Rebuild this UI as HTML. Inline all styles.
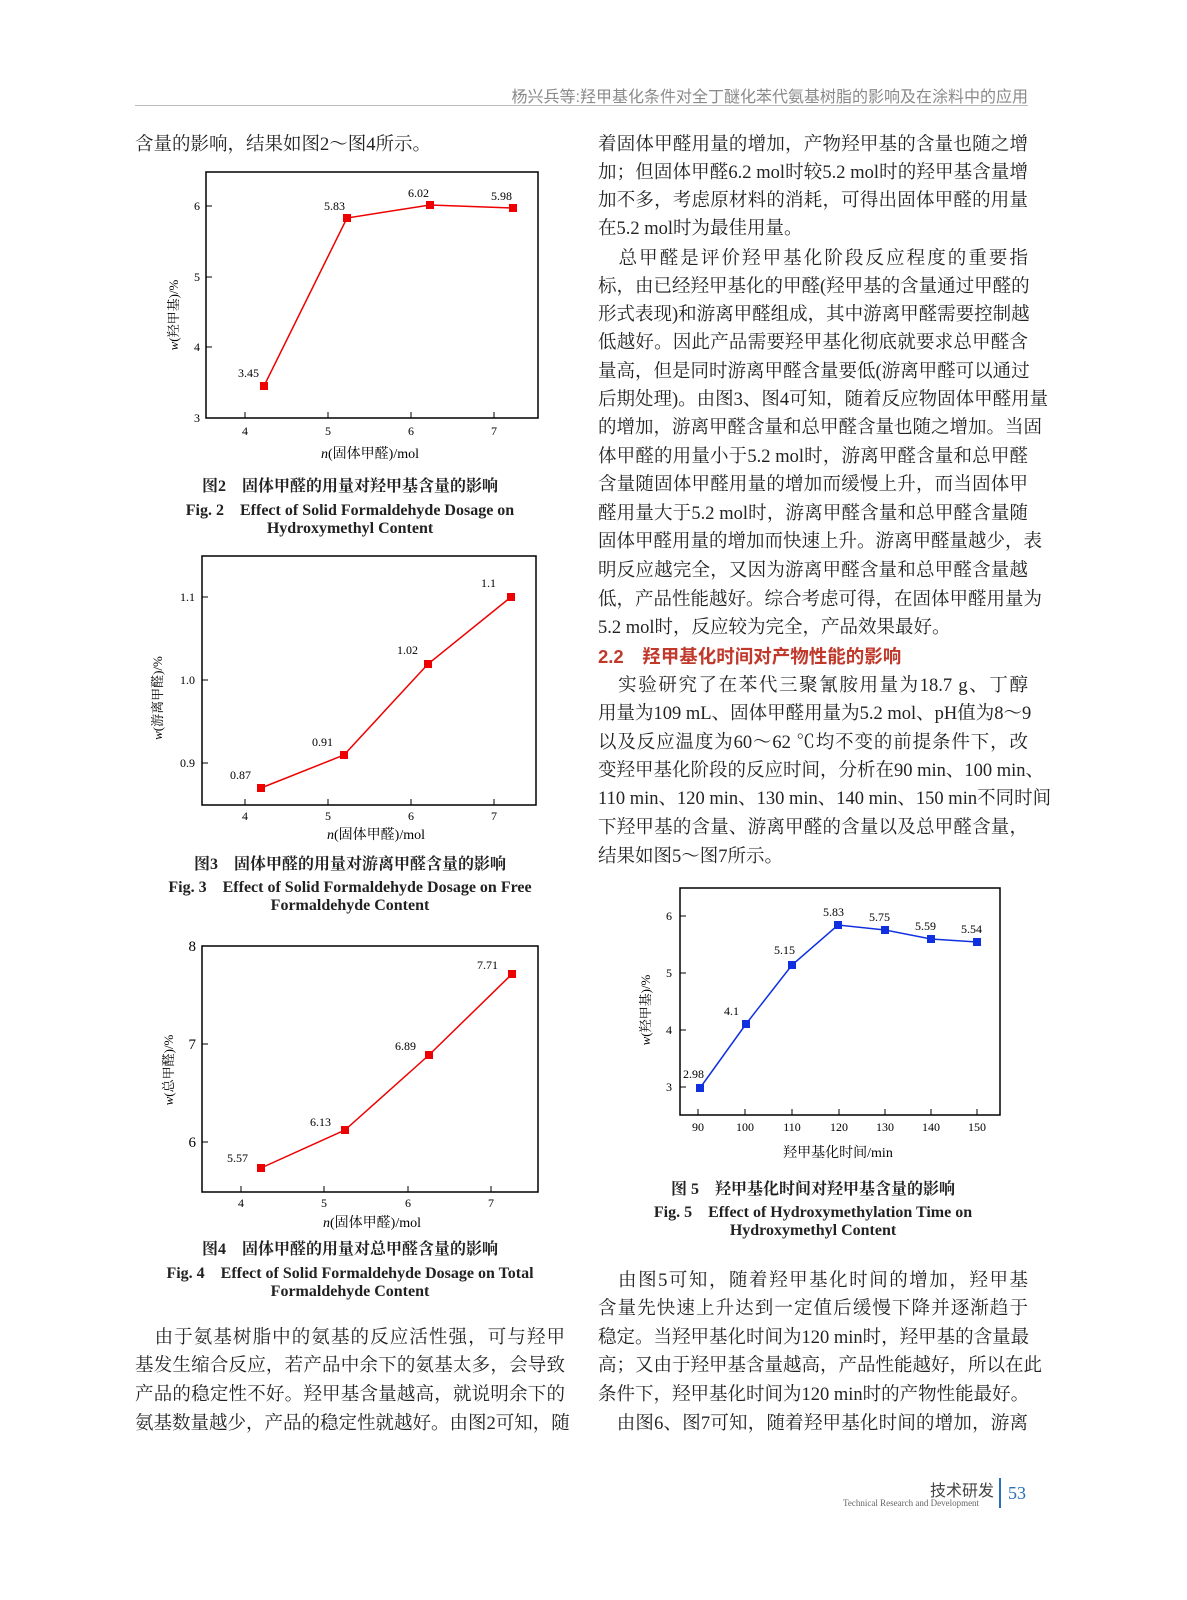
<!DOCTYPE html>
<html><head><meta charset="utf-8">
<style>
html,body{margin:0;padding:0;background:#fff;}
#pg{position:relative;width:1187px;height:1600px;overflow:hidden;font-family:"Liberation Serif","Noto Serif CJK SC","Noto Sans CJK SC",serif;color:#222;}
.l{position:absolute;font-size:18.5px;line-height:24px;white-space:nowrap;text-align:justify;text-align-last:justify;}
.L{left:135px;width:430px;}
.R{left:598px;width:430px;}
.n{text-align-last:left;}
.cap{position:absolute;font-size:16px;font-weight:bold;text-align:center;white-space:nowrap;}
svg text{font-family:"Liberation Serif","Noto Serif CJK SC",serif;}
</style></head><body><div id="pg">
<div style="position:absolute;right:159px;top:83px;font-size:16px;color:#8a8a8a;font-family:'Liberation Sans','Noto Sans CJK SC',sans-serif;">杨兴兵等:羟甲基化条件对全丁醚化苯代氨基树脂的影响及在涂料中的应用</div>
<div style="position:absolute;left:135px;top:105px;width:893px;height:1px;background:#bbb;"></div>

<div class="l L n" style="top:133px">含量的影响，结果如图2～图4所示。</div>

<div class="l R" style="top:133px">着固体甲醛用量的增加，产物羟甲基的含量也随之增</div>
<div class="l R" style="top:161px">加；但固体甲醛6.2 mol时较5.2 mol时的羟甲基含量增</div>
<div class="l R" style="top:189px">加不多，考虑原材料的消耗，可得出固体甲醛的用量</div>
<div class="l R n" style="top:217px">在5.2 mol时为最佳用量。</div>
<div class="l R" style="top:247px">　总甲醛是评价羟甲基化阶段反应程度的重要指</div>
<div class="l R" style="top:275px">标，由已经羟甲基化的甲醛(羟甲基的含量通过甲醛的</div>
<div class="l R" style="top:303px">形式表现)和游离甲醛组成，其中游离甲醛需要控制越</div>
<div class="l R" style="top:331px">低越好。因此产品需要羟甲基化彻底就要求总甲醛含</div>
<div class="l R" style="top:360px">量高，但是同时游离甲醛含量要低(游离甲醛可以通过</div>
<div class="l R" style="top:388px">后期处理)。由图3、图4可知，随着反应物固体甲醛用量</div>
<div class="l R" style="top:416px">的增加，游离甲醛含量和总甲醛含量也随之增加。当固</div>
<div class="l R" style="top:445px">体甲醛的用量小于5.2 mol时，游离甲醛含量和总甲醛</div>
<div class="l R" style="top:473px">含量随固体甲醛用量的增加而缓慢上升，而当固体甲</div>
<div class="l R" style="top:502px">醛用量大于5.2 mol时，游离甲醛含量和总甲醛含量随</div>
<div class="l R" style="top:530px">固体甲醛用量的增加而快速上升。游离甲醛量越少，表</div>
<div class="l R" style="top:559px">明反应越完全，又因为游离甲醛含量和总甲醛含量越</div>
<div class="l R" style="top:588px">低，产品性能越好。综合考虑可得，在固体甲醛用量为</div>
<div class="l R n" style="top:616px">5.2 mol时，反应较为完全，产品效果最好。</div>
<div class="l R n" style="top:645px;color:#c0392b;font-weight:bold;font-family:'Liberation Sans','Noto Sans CJK SC',sans-serif;">2.2　羟甲基化时间对产物性能的影响</div>
<div class="l R" style="top:674px">　实验研究了在苯代三聚氰胺用量为18.7 g、丁醇</div>
<div class="l R" style="top:702px">用量为109 mL、固体甲醛用量为5.2 mol、pH值为8～9</div>
<div class="l R" style="top:731px">以及反应温度为60～62 ℃均不变的前提条件下，改</div>
<div class="l R" style="top:759px">变羟甲基化阶段的反应时间，分析在90 min、100 min、</div>
<div class="l R" style="top:787px">110 min、120 min、130 min、140 min、150 min不同时间</div>
<div class="l R" style="top:816px">下羟甲基的含量、游离甲醛的含量以及总甲醛含量，</div>
<div class="l R n" style="top:845px">结果如图5～图7所示。</div>

<div class="l R" style="top:1269px">　由图5可知，随着羟甲基化时间的增加，羟甲基</div>
<div class="l R" style="top:1297px">含量先快速上升达到一定值后缓慢下降并逐渐趋于</div>
<div class="l R" style="top:1326px">稳定。当羟甲基化时间为120 min时，羟甲基的含量最</div>
<div class="l R" style="top:1354px">高；又由于羟甲基含量越高，产品性能越好，所以在此</div>
<div class="l R" style="top:1383px">条件下，羟甲基化时间为120 min时的产物性能最好。</div>
<div class="l R" style="top:1412px">　由图6、图7可知，随着羟甲基化时间的增加，游离</div>

<div class="l L" style="top:1326px">　由于氨基树脂中的氨基的反应活性强，可与羟甲</div>
<div class="l L" style="top:1354px">基发生缩合反应，若产品中余下的氨基太多，会导致</div>
<div class="l L" style="top:1383px">产品的稳定性不好。羟甲基含量越高，就说明余下的</div>
<div class="l L" style="top:1412px">氨基数量越少，产品的稳定性就越好。由图2可知，随</div>

<div class="cap" style="left:135px;width:430px;top:473px">图2　固体甲醛的用量对羟甲基含量的影响</div>
<div class="cap" style="left:135px;width:430px;top:497px">Fig. 2　Effect of Solid Formaldehyde Dosage on</div>
<div class="cap" style="left:135px;width:430px;top:520px">Hydroxymethyl Content</div>
<div class="cap" style="left:135px;width:430px;top:851px">图3　固体甲醛的用量对游离甲醛含量的影响</div>
<div class="cap" style="left:135px;width:430px;top:874px">Fig. 3　Effect of Solid Formaldehyde Dosage on Free</div>
<div class="cap" style="left:135px;width:430px;top:897px">Formaldehyde Content</div>
<div class="cap" style="left:135px;width:430px;top:1236px">图4　固体甲醛的用量对总甲醛含量的影响</div>
<div class="cap" style="left:135px;width:430px;top:1260px">Fig. 4　Effect of Solid Formaldehyde Dosage on Total</div>
<div class="cap" style="left:135px;width:430px;top:1283px">Formaldehyde Content</div>
<div class="cap" style="left:598px;width:430px;top:1176px">图 5　羟甲基化时间对羟甲基含量的影响</div>
<div class="cap" style="left:598px;width:430px;top:1199px">Fig. 5　Effect of Hydroxymethylation Time on</div>
<div class="cap" style="left:598px;width:430px;top:1222px">Hydroxymethyl Content</div>

<svg width="1187" height="1600" style="position:absolute;left:0;top:0" font-size="12">
<!-- Fig2 -->
<rect x="206" y="172" width="332" height="246" fill="none" stroke="#000" stroke-width="1.5"/>
<g stroke="#000"><line x1="245" y1="418" x2="245" y2="412"/><line x1="328" y1="418" x2="328" y2="412"/><line x1="411" y1="418" x2="411" y2="412"/><line x1="494" y1="418" x2="494" y2="412"/>
<line x1="206" y1="206" x2="212" y2="206"/><line x1="206" y1="277" x2="212" y2="277"/><line x1="206" y1="347" x2="212" y2="347"/></g>
<g text-anchor="middle"><text x="245" y="435">4</text><text x="328" y="435">5</text><text x="411" y="435">6</text><text x="494" y="435">7</text></g>
<g text-anchor="end"><text x="200" y="210">6</text><text x="200" y="281">5</text><text x="200" y="351">4</text><text x="200" y="422">3</text></g>
<text x="370" y="458" text-anchor="middle" font-size="14"><tspan font-style="italic">n</tspan>(固体甲醛)/mol</text>
<text transform="translate(178,315) rotate(-90)" text-anchor="middle" font-size="13"><tspan font-style="italic">w</tspan>(羟甲基)/%</text>
<polyline points="264,386 347,218 430,205 513,208" fill="none" stroke="#e00" stroke-width="1.5"/>
<g fill="#e00"><rect x="260" y="382" width="8" height="8"/><rect x="343" y="214" width="8" height="8"/><rect x="426" y="201" width="8" height="8"/><rect x="509" y="204" width="8" height="8"/></g>
<text x="238" y="377">3.45</text><text x="324" y="210">5.83</text><text x="408" y="197">6.02</text><text x="491" y="200">5.98</text>
<!-- Fig3 -->
<rect x="202" y="556" width="334" height="249" fill="none" stroke="#000" stroke-width="1.5"/>
<g stroke="#000"><line x1="245" y1="805" x2="245" y2="799"/><line x1="328" y1="805" x2="328" y2="799"/><line x1="411" y1="805" x2="411" y2="799"/><line x1="494" y1="805" x2="494" y2="799"/>
<line x1="202" y1="597" x2="208" y2="597"/><line x1="202" y1="680" x2="208" y2="680"/><line x1="202" y1="763" x2="208" y2="763"/></g>
<g text-anchor="middle"><text x="245" y="820">4</text><text x="328" y="820">5</text><text x="411" y="820">6</text><text x="494" y="820">7</text></g>
<g text-anchor="end"><text x="195" y="601">1.1</text><text x="195" y="684">1.0</text><text x="195" y="767">0.9</text></g>
<text x="376" y="839" text-anchor="middle" font-size="14"><tspan font-style="italic">n</tspan>(固体甲醛)/mol</text>
<text transform="translate(162,698) rotate(-90)" text-anchor="middle" font-size="13"><tspan font-style="italic">w</tspan>(游离甲醛)/%</text>
<polyline points="261,788 344,755 428,664 511,597" fill="none" stroke="#e00" stroke-width="1.5"/>
<g fill="#e00"><rect x="257" y="784" width="8" height="8"/><rect x="340" y="751" width="8" height="8"/><rect x="424" y="660" width="8" height="8"/><rect x="507" y="593" width="8" height="8"/></g>
<text x="230" y="779">0.87</text><text x="312" y="746">0.91</text><text x="397" y="654">1.02</text><text x="481" y="587">1.1</text>
<!-- Fig4 -->
<rect x="202" y="946" width="336" height="246" fill="none" stroke="#000" stroke-width="1.5"/>
<g stroke="#000"><line x1="241" y1="1192" x2="241" y2="1186"/><line x1="324" y1="1192" x2="324" y2="1186"/><line x1="408" y1="1192" x2="408" y2="1186"/><line x1="491" y1="1192" x2="491" y2="1186"/>
<line x1="202" y1="1044" x2="208" y2="1044"/><line x1="202" y1="1142" x2="208" y2="1142"/></g>
<g text-anchor="middle"><text x="241" y="1207">4</text><text x="324" y="1207">5</text><text x="408" y="1207">6</text><text x="491" y="1207">7</text></g>
<g text-anchor="end" font-size="15"><text x="196" y="951">8</text><text x="196" y="1049">7</text><text x="196" y="1147">6</text></g>
<text x="372" y="1227" text-anchor="middle" font-size="14"><tspan font-style="italic">n</tspan>(固体甲醛)/mol</text>
<text transform="translate(173,1070) rotate(-90)" text-anchor="middle" font-size="13"><tspan font-style="italic">w</tspan>(总甲醛)/%</text>
<polyline points="261,1168 345,1130 429,1055 512,974" fill="none" stroke="#e00" stroke-width="1.5"/>
<g fill="#e00"><rect x="257" y="1164" width="8" height="8"/><rect x="341" y="1126" width="8" height="8"/><rect x="425" y="1051" width="8" height="8"/><rect x="508" y="970" width="8" height="8"/></g>
<text x="227" y="1162">5.57</text><text x="310" y="1126">6.13</text><text x="395" y="1050">6.89</text><text x="477" y="969">7.71</text>
<!-- Fig5 -->
<rect x="680" y="888" width="320" height="227" fill="none" stroke="#000" stroke-width="1.5"/>
<g stroke="#000"><line x1="698" y1="1115" x2="698" y2="1109"/><line x1="745" y1="1115" x2="745" y2="1109"/><line x1="792" y1="1115" x2="792" y2="1109"/><line x1="839" y1="1115" x2="839" y2="1109"/><line x1="885" y1="1115" x2="885" y2="1109"/><line x1="931" y1="1115" x2="931" y2="1109"/><line x1="977" y1="1115" x2="977" y2="1109"/>
<line x1="680" y1="916" x2="686" y2="916"/><line x1="680" y1="973" x2="686" y2="973"/><line x1="680" y1="1030" x2="686" y2="1030"/><line x1="680" y1="1087" x2="686" y2="1087"/></g>
<g text-anchor="middle"><text x="698" y="1131">90</text><text x="745" y="1131">100</text><text x="792" y="1131">110</text><text x="839" y="1131">120</text><text x="885" y="1131">130</text><text x="931" y="1131">140</text><text x="977" y="1131">150</text></g>
<g text-anchor="end"><text x="672" y="920">6</text><text x="672" y="977">5</text><text x="672" y="1034">4</text><text x="672" y="1091">3</text></g>
<text x="838" y="1157" text-anchor="middle" font-size="14">羟甲基化时间/min</text>
<text transform="translate(650,1010) rotate(-90)" text-anchor="middle" font-size="13"><tspan font-style="italic">w</tspan>(羟甲基)/%</text>
<polyline points="700,1088 746,1024 792,965 838,925 885,930 931,939 977,942" fill="none" stroke="#1030e0" stroke-width="1.5"/>
<g fill="#1030e0"><rect x="696" y="1084" width="8" height="8"/><rect x="742" y="1020" width="8" height="8"/><rect x="788" y="961" width="8" height="8"/><rect x="834" y="921" width="8" height="8"/><rect x="881" y="926" width="8" height="8"/><rect x="927" y="935" width="8" height="8"/><rect x="973" y="938" width="8" height="8"/></g>
<text x="683" y="1078">2.98</text><text x="724" y="1015">4.1</text><text x="774" y="954">5.15</text><text x="823" y="916">5.83</text><text x="869" y="921">5.75</text><text x="915" y="930">5.59</text><text x="961" y="933">5.54</text>
</svg>

<div style="position:absolute;left:930px;top:1477px;font-size:16px;color:#444;font-family:'Liberation Sans','Noto Sans CJK SC',sans-serif;">技术研发</div>
<div style="position:absolute;left:843px;top:1498px;font-size:9px;color:#666;">Technical Research and Development</div>
<div style="position:absolute;left:999px;top:1478px;width:2px;height:30px;background:#2a6fb5;"></div>
<div style="position:absolute;left:1008px;top:1483px;font-size:18px;color:#2a6fb5;">53</div>
</div></body></html>
